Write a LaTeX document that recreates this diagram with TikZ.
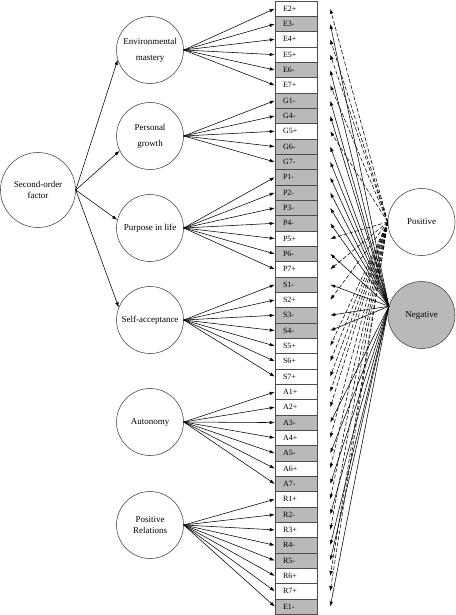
\documentclass[tikz,border=0pt]{standalone}
\usepackage{fontspec}
\setmainfont{Liberation Serif}
\usetikzlibrary{calc}
\usetikzlibrary{arrows.meta}

\colorlet{neggray}{gray!55}
\tikzset{
  latent/.style={circle,draw=black!75,minimum size=67pt,inner sep=1pt,align=center,font=\fontsize{9}{11}\selectfont},
  item/.style={draw=black!70,text width=26pt,inner xsep=8pt,inner ysep=0pt,minimum height=15.33pt,align=left,font=\fontsize{8}{9}\selectfont},
  poslink/.style={->,dash pattern=on 4pt off 2pt},
  neglink/.style={->},
}

\begin{document}
\begin{tikzpicture}[x=1pt,y=-1pt,>={Latex[length=5pt,width=3.5pt]},line width=0.55pt]
\useasboundingbox (0,0) rectangle (455,615);

% latent factors
\node[latent,minimum size=75pt] (sec) at (38,190) {Second-order\\factor};
\node[latent] (em) at (150,50) {Environmental\\[5pt]mastery};
\node[latent] (pg) at (150,136) {Personal\\[5pt]growth};
\node[latent] (pl) at (150,228) {Purpose in life};
\node[latent] (sa) at (150,320) {Self-acceptance};
\node[latent] (au) at (150,422) {Autonomy};
\node[latent] (pr) at (150,525) {Positive\\Relations};

\node[latent] (pos) at (421.5,222) {Positive};
\node[latent,fill=neggray] (neg) at (421.5,315) {Negative};

% items
\foreach \lab/\fc [count=\i] in {E2+/white,E3-/neggray,E4+/white,E5+/white,E6-/neggray,E7+/white,
  G1-/neggray,G4-/neggray,G5+/white,G6-/neggray,G7-/neggray,
  P1-/neggray,P2-/neggray,P3-/neggray,P4-/neggray,P5+/white,P6-/neggray,P7+/white,
  S1-/neggray,S2+/white,S3-/neggray,S4-/neggray,S5+/white,S6+/white,S7+/white,
  A1+/white,A2+/white,A3-/neggray,A4+/white,A5-/neggray,A6+/white,A7-/neggray,
  R1+/white,R2-/neggray,R3+/white,R4-/neggray,R5-/neggray,R6+/white,R7+/white,E1-/neggray}
{
  \node[item,fill=\fc] (i\i) at (296,{1+15.33*(\i-0.5)}) {\lab};
  \coordinate (t\i) at ([xshift=13pt]i\i.east);
}

% second-order loadings
\draw[->] (sec.east) -- (em.197);
\draw[->] (sec.east) -- (pg.206);
\draw[->] (sec.east) -- (pl.166);
\draw[->] (sec.east) -- (sa.158);

% first-order loadings
\foreach \i in {1,...,6} \draw[->] (em.east) -- (i\i.west);
\foreach \i in {7,...,11} \draw[->] (pg.east) -- (i\i.west);
\foreach \i in {12,...,18} \draw[->] (pl.east) -- (i\i.west);
\foreach \i in {19,...,25} \draw[->] (sa.east) -- (i\i.west);
\foreach \i in {26,...,32} \draw[->] (au.east) -- (i\i.west);
\foreach \i in {33,...,40} \draw[->] (pr.east) -- (i\i.west);

% method factors
\foreach \i in {1,3,4,6,9,16,18,20,23,24,25,26,27,29,31,33,35,38,39}
  \draw[poslink] (pos.west) -- (t\i);
\foreach \i in {2,5,7,8,10,11,12,13,14,15,17,19,21,22,28,30,32,34,36,37,40}
  \draw[neglink] (neg.165) -- (t\i);
\end{tikzpicture}
\end{document}
